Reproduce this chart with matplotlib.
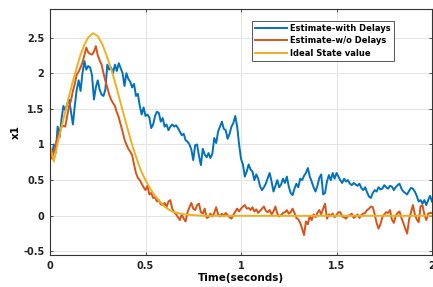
import numpy as np
import matplotlib
matplotlib.use("Agg")
import matplotlib.pyplot as plt

# time axis, one sample every 10 ms
t = np.linspace(0, 2, 201)

with_delays = [
    0.90, 0.85, 1.00, 0.88, 1.25, 1.10, 1.35, 1.54, 1.48, 1.57,
    1.63, 1.46, 1.28, 1.55, 1.77, 1.90, 1.75, 2.00, 2.17, 2.05,
    2.10, 2.08, 1.97, 1.63, 1.80, 1.90, 1.77, 1.70, 1.68, 1.77,
    2.12, 2.05, 2.08, 2.00, 2.12, 2.03, 2.14, 2.07, 2.00, 1.82,
    2.00, 1.92, 1.88, 1.80, 1.85, 1.68, 1.71, 1.54, 1.42, 1.52,
    1.40, 1.42, 1.38, 1.23, 1.28, 1.40, 1.46, 1.44, 1.32, 1.37,
    1.25, 1.28, 1.20, 1.25, 1.28, 1.25, 1.27, 1.23, 1.18, 1.13,
    1.15, 1.06, 1.04, 1.00, 0.93, 0.78, 0.99, 1.00, 0.84, 0.71,
    0.94, 0.86, 0.82, 0.88, 0.81, 0.87, 1.09, 1.02, 1.18, 1.25,
    1.32, 1.22, 1.20, 1.08, 1.15, 1.25, 1.30, 1.40, 1.25, 1.00,
    0.80, 0.72, 0.55, 0.62, 0.72, 0.65, 0.62, 0.50, 0.58, 0.52,
    0.41, 0.36, 0.40, 0.45, 0.53, 0.60, 0.48, 0.34, 0.42, 0.50,
    0.40, 0.44, 0.52, 0.46, 0.55, 0.41, 0.32, 0.29, 0.38, 0.45,
    0.40, 0.52, 0.50, 0.56, 0.60, 0.67, 0.55, 0.48, 0.40, 0.34,
    0.42, 0.53, 0.58, 0.30, 0.32, 0.48, 0.57, 0.50, 0.60, 0.52,
    0.60, 0.55, 0.50, 0.46, 0.52, 0.48, 0.50, 0.45, 0.43, 0.46,
    0.44, 0.42, 0.45, 0.39, 0.36, 0.40, 0.33, 0.27, 0.25, 0.32,
    0.36, 0.34, 0.40, 0.37, 0.38, 0.43, 0.40, 0.38, 0.42, 0.41,
    0.36, 0.40, 0.43, 0.45, 0.38, 0.34, 0.32, 0.30, 0.35, 0.39,
    0.38, 0.34, 0.28, 0.20, 0.22, 0.17, 0.22, 0.15, 0.22, 0.28,
    0.20,
]

without_delays = [
    0.95, 0.80, 0.90, 1.00, 1.10, 1.18, 1.25, 1.26, 1.25, 1.40,
    1.54, 1.62, 1.75, 1.85, 1.98, 2.02, 2.08, 2.15, 2.25, 2.36,
    2.29, 2.27, 2.26, 2.30, 2.38, 2.25, 2.18, 2.12, 2.00, 1.89,
    1.80, 1.70, 1.63, 1.58, 1.54, 1.45, 1.38, 1.28, 1.18, 1.07,
    1.00, 0.94, 0.90, 0.85, 0.72, 0.60, 0.53, 0.50, 0.45, 0.40,
    0.36, 0.42, 0.30, 0.32, 0.25, 0.26, 0.20, 0.22, 0.16, 0.15,
    0.18, 0.12, 0.20, 0.22, 0.10, 0.05, 0.02, -0.02, -0.06, 0.02,
    -0.04, -0.08, 0.05, 0.12, 0.18, 0.10, 0.08, 0.15, 0.17, 0.05,
    0.03, 0.10, -0.03, -0.02, 0.03, -0.01, 0.04, 0.12, 0.02, -0.01,
    0.03, 0.00, 0.04, 0.01, -0.02, -0.04, 0.01, 0.06, 0.10, 0.06,
    0.10, 0.13, 0.15, 0.10, 0.11, 0.08, 0.12, 0.06, 0.09, 0.04,
    0.07, 0.10, 0.13, 0.07, 0.05, 0.08, 0.02, 0.06, 0.13, 0.03,
    -0.01, 0.01, 0.04, 0.05, 0.08, 0.03, 0.05, 0.10, 0.04, -0.03,
    -0.05, -0.10, -0.18, -0.27, -0.08, -0.12, 0.00, -0.06, 0.02, -0.02,
    0.04, 0.08, 0.02, 0.10, 0.17, -0.04, 0.02, 0.00, 0.03, -0.02,
    0.01, 0.05, 0.05, -0.01, -0.02, -0.04, 0.00, 0.01, 0.03, -0.03,
    -0.01, 0.02, -0.03, 0.01, 0.03, 0.04, 0.08, 0.10, 0.13, 0.12,
    0.02, -0.10, -0.18, -0.12, -0.02, 0.02, 0.05, 0.04, 0.08, -0.05,
    -0.10, 0.00, 0.04, 0.06, -0.03, -0.10, -0.18, -0.25, -0.05, 0.05,
    0.15, 0.02, -0.05, -0.09, 0.13, 0.15, 0.02, -0.06, 0.03, 0.04,
    0.04,
]

ideal_t = [0.0, 0.02, 0.04, 0.06, 0.08, 0.10, 0.12, 0.14, 0.16, 0.18,
           0.20, 0.225, 0.25, 0.275, 0.30, 0.325, 0.35, 0.375, 0.40, 0.425,
           0.45, 0.475, 0.50, 0.525, 0.55, 0.575, 0.60, 0.625, 0.65, 0.70,
           0.75, 0.80, 2.0]
ideal = [0.98, 0.76, 1.02, 1.24, 1.46, 1.68, 1.89, 2.08, 2.26, 2.40,
         2.50, 2.56, 2.52, 2.40, 2.22, 2.02, 1.78, 1.53, 1.28, 1.04,
         0.83, 0.64, 0.50, 0.38, 0.28, 0.20, 0.13, 0.08, 0.05, 0.02,
         0.01, 0.0, 0.0]

labels = ["Estimate-with Delays", "Estimate-w/o Delays", "Ideal State value"]
colors = ["#0072BD", "#D95319", "#EDB120"]

plt.rcParams["font.family"] = "DejaVu Sans"
plt.rcParams["font.weight"] = "bold"

fig = plt.figure(figsize=(4.33, 2.87), dpi=100)
ax = fig.add_axes([50 / 433, 32 / 287, 382 / 433, 246 / 287])

ax.plot(t, with_delays, color=colors[0], lw=1.4, label=labels[0])
ax.plot(t, without_delays, color=colors[1], lw=1.4, label=labels[1])
ax.plot(ideal_t, ideal, color=colors[2], lw=1.4, label=labels[2])

ax.set_xlim(0, 2)
ax.set_ylim(-0.55, 2.9)
ax.set_xticks([0, 0.5, 1, 1.5, 2])
ax.set_xticklabels(["0", "0.5", "1", "1.5", "2"])
ax.set_yticks([-0.5, 0, 0.5, 1, 1.5, 2, 2.5])
ax.set_yticklabels(["-0.5", "0", "0.5", "1", "1.5", "2", "2.5"])

ax.grid(True, color="#e3e3e3", lw=0.7)
ax.set_axisbelow(True)
for s in ax.spines.values():
    s.set_color("#333333")
    s.set_linewidth(0.8)
ax.tick_params(direction="in", length=2.5, width=0.6, color="#333333",
               top=True, right=True, labelsize=7, labelcolor="#222222", pad=4)

ax.set_xlabel("Time(seconds)", fontsize=7.5, fontweight="bold", labelpad=2)
ax.set_ylabel("x1", fontsize=7.5, fontweight="bold", labelpad=2)

leg = ax.legend(loc="upper left", bbox_to_anchor=(0.528, 0.951), borderaxespad=0,
                prop={"weight": "bold", "size": 6}, fancybox=False,
                framealpha=1, edgecolor="#555555", handlelength=3.85,
                handletextpad=0.45, labelspacing=0.4, borderpad=0.35)
leg.get_frame().set_linewidth(0.7)

fig.savefig("out.png", dpi=100)
